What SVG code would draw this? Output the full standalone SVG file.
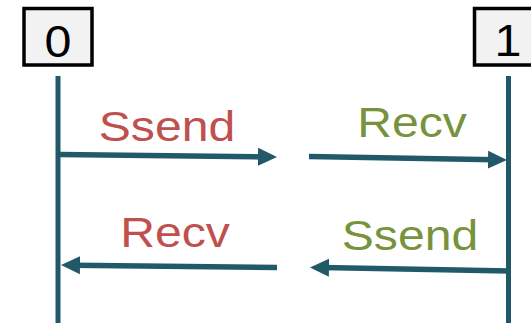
<svg xmlns="http://www.w3.org/2000/svg" width="531" height="323" viewBox="0 0 531 323">
  <style>
    .box { fill: #F2F2F2; stroke: #000000; stroke-width: 3.5; }
    .life { stroke: #215968; stroke-width: 5; fill: none; }
    .msg { stroke: #215968; stroke-width: 5.5; fill: none; marker-end: url(#head); }
    .lbl { font-family: "Liberation Sans", Arial, sans-serif; font-size: 43px; text-anchor: middle; }
    .id { font-family: "Liberation Sans", Arial, sans-serif; font-size: 44px; text-anchor: middle; fill: #000000; }
    .red { fill: #C0504D; }
    .green { fill: #77933C; }
  </style>
  <defs>
    <marker id="head" markerUnits="userSpaceOnUse" markerWidth="20" markerHeight="20" viewBox="0 0 20 20" refX="7" refY="9.5" orient="auto">
      <path d="M0,0.5 L19,9.5 L0,18.5 z" fill="#215968"/>
    </marker>
  </defs>

  <!-- process 0 -->
  <g id="p0">
    <rect class="box" x="24" y="8.5" width="68" height="56.5"/>
    <g transform="translate(58,56.5) scale(1.1,1)"><text class="id" x="0" y="0">0</text></g>
    <line class="life" x1="58" y1="76" x2="58" y2="323"/>
  </g>

  <!-- process 1 -->
  <g id="p1">
    <rect class="box" x="474.5" y="8.5" width="68" height="56.5"/>
    <g transform="translate(508,56) scale(1.1,1)"><text class="id" x="0" y="0">1</text></g>
    <line class="life" x1="508.5" y1="76" x2="508.5" y2="323"/>
  </g>

  <!-- messages -->
  <g id="connectors">
    <path class="msg" d="M60,154.5 L265,156.9"/>
    <path class="msg" d="M309,156.5 L495,159.8"/>
    <path class="msg" d="M277,267.5 L73,265.2"/>
    <path class="msg" d="M510,271 L322,267.6"/>
  </g>

  <!-- labels -->
  <g id="labels">
    <g transform="translate(167,141) scale(1.12,1)"><text class="lbl red" x="0" y="0">Ssend</text></g>
    <g transform="translate(412,137) scale(1.12,1)"><text class="lbl green" x="0" y="0">Recv</text></g>
    <g transform="translate(175,247) scale(1.12,1)"><text class="lbl red" x="0" y="0">Recv</text></g>
    <g transform="translate(410,250) scale(1.12,1)"><text class="lbl green" x="0" y="0">Ssend</text></g>
  </g>
</svg>
